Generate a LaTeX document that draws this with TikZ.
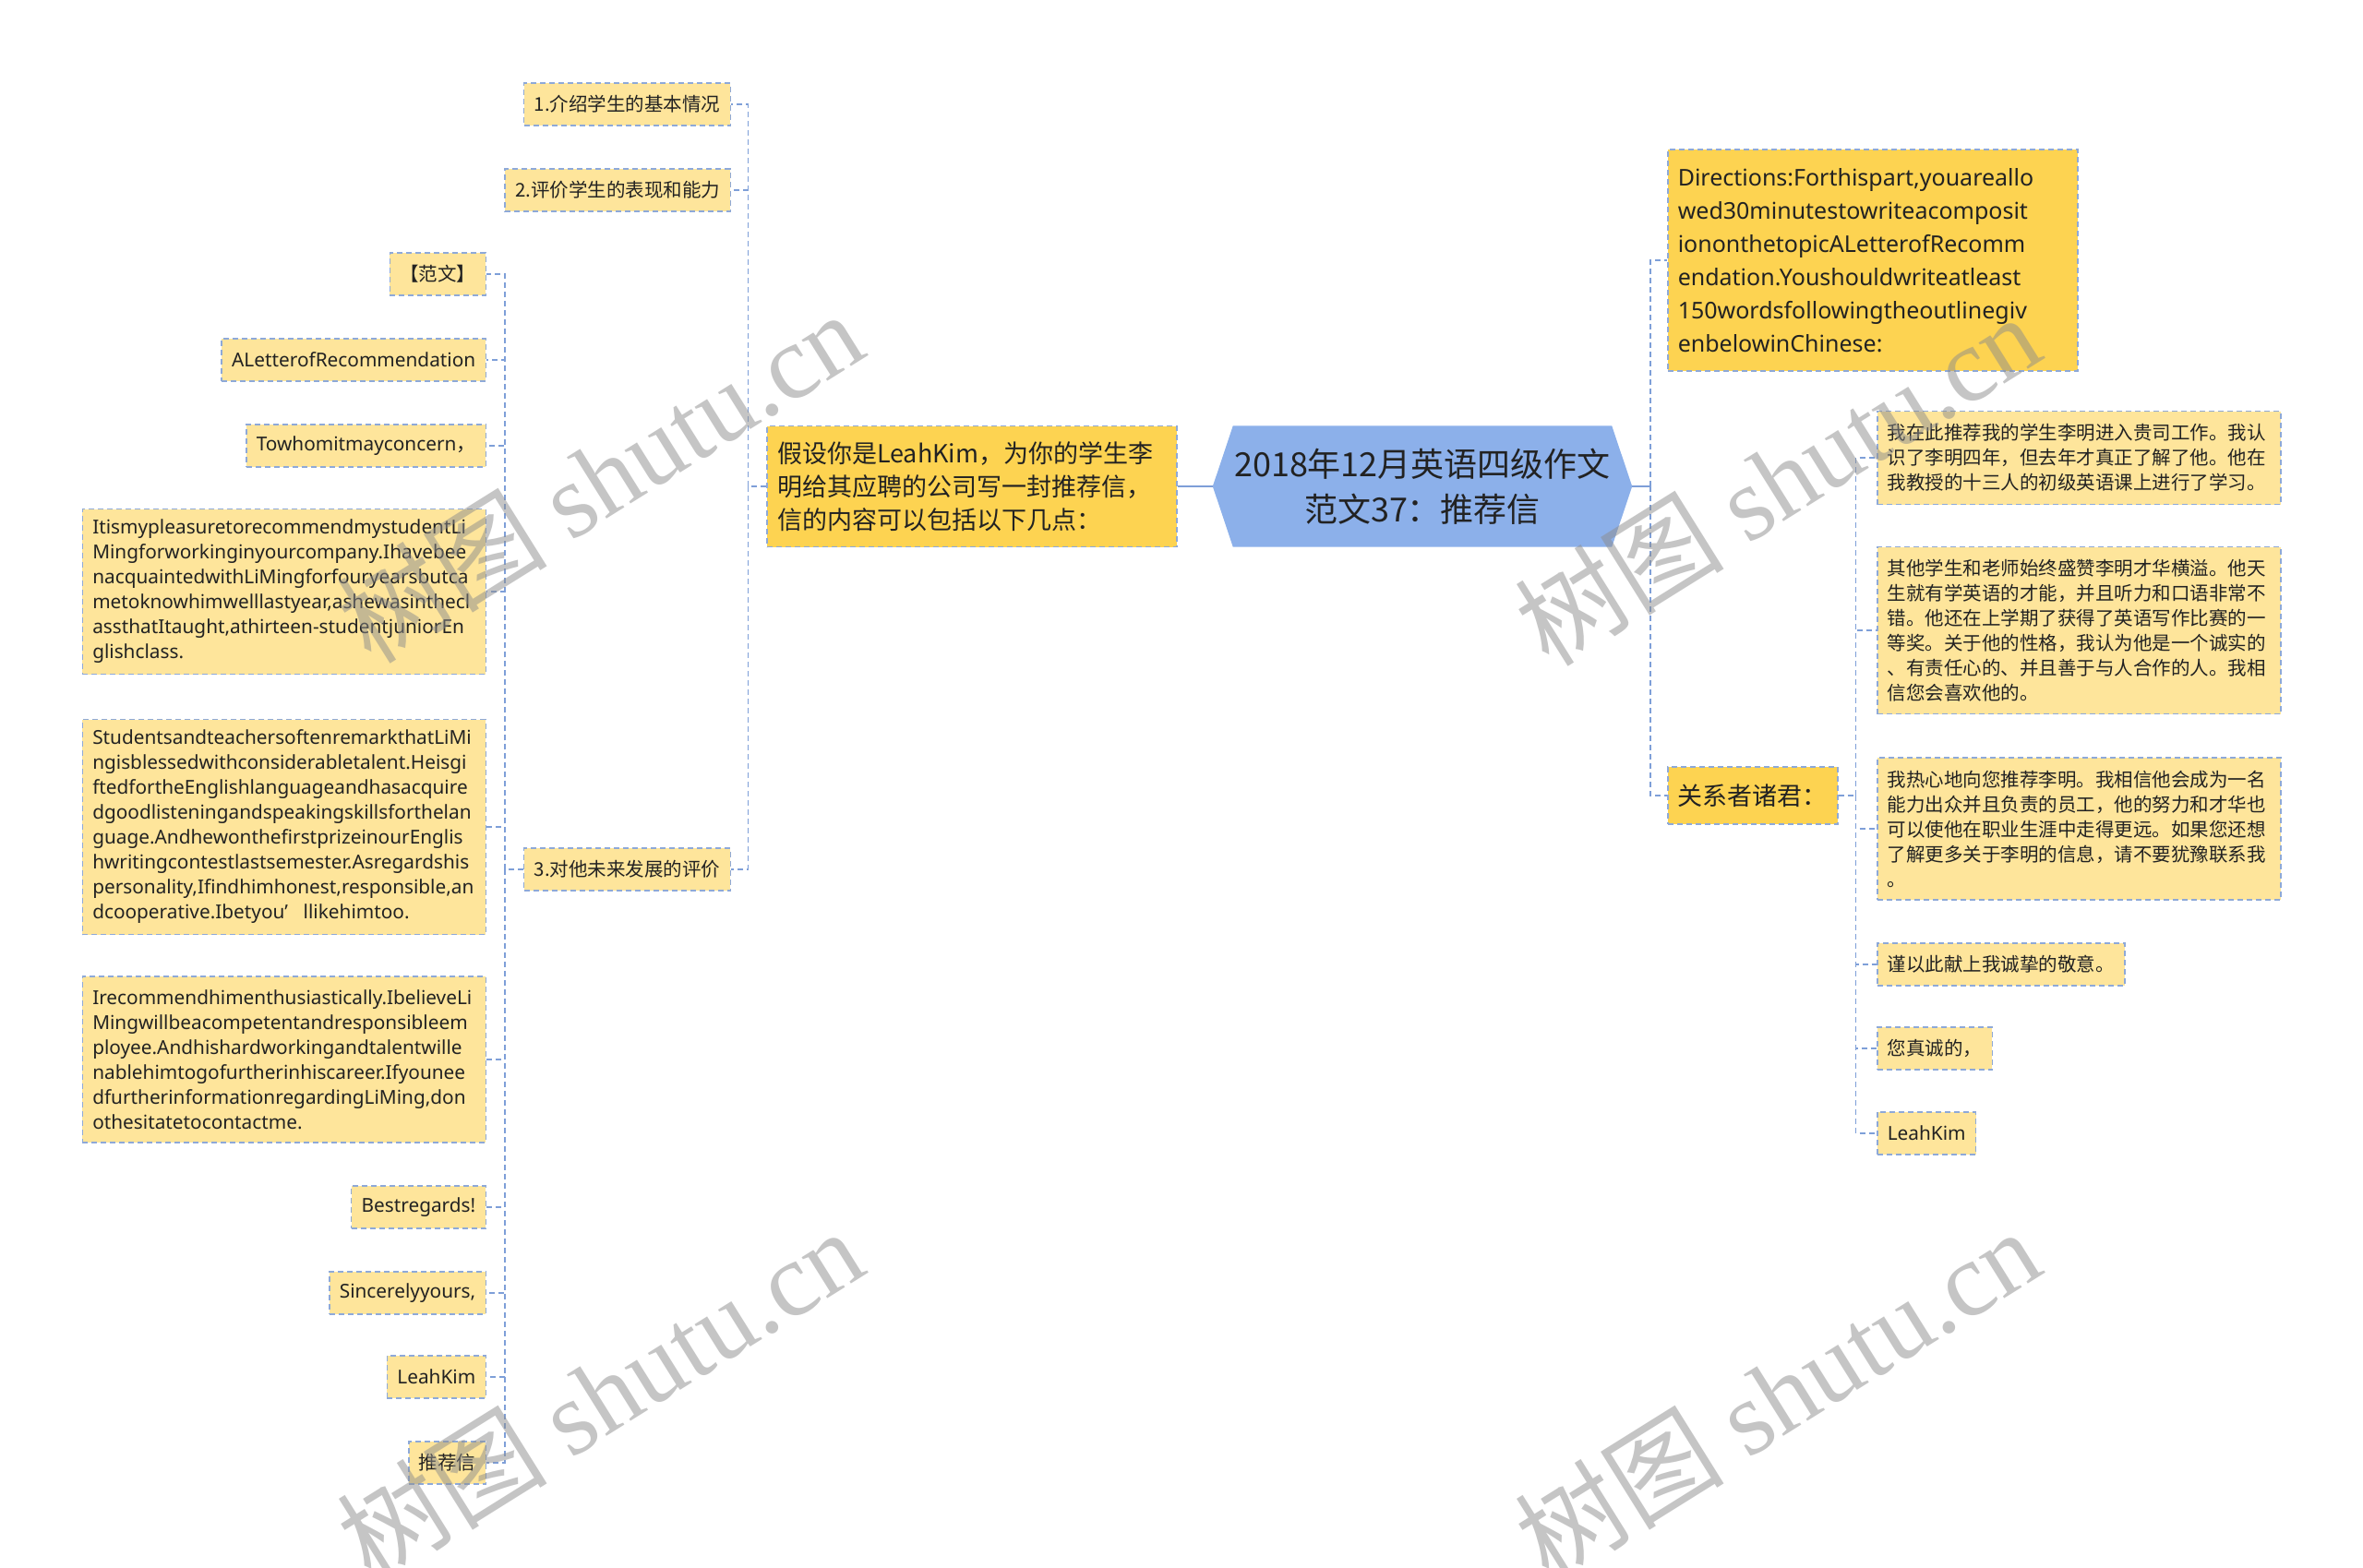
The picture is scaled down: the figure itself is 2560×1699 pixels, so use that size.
\documentclass[tikz,border=0pt]{standalone}
\usepackage{fontspec}
\setmainfont{Noto Sans CJK SC}
\newfontfamily\cjkf{Noto Sans CJK SC}
\newfontfamily\lat{Noto Sans}
\newfontfamily\wmserif{Liberation Serif}
\usetikzlibrary{calc,backgrounds}
\definecolor{darky}{HTML}{FDD351}
\definecolor{lighty}{HTML}{FEE59B}
\definecolor{cblue}{HTML}{8CB0EA}
\definecolor{bord}{HTML}{8EA9D8}
\definecolor{linec}{HTML}{7E9FD8}
\definecolor{txt}{HTML}{222222}
\hyphenpenalty=10000 \exhyphenpenalty=10000
\newcommand\szS{\fontsize{20.5}{27}\selectfont}
\newcommand\szE{\lat\fontsize{20.8}{27}\selectfont}
\newcommand\szM{\fontsize{27}{36}\selectfont}
\newcommand\szD{\lat\fontsize{25}{36}\selectfont}
\newcommand\szL{\fontsize{36}{49}\selectfont}
\tikzset{
 box/.style={draw=bord, line width=1.5pt, dash pattern=on 6pt off 4pt, text=txt,
   inner xsep=11pt, inner ysep=9pt, align=left},
 leaf/.style={box, fill=lighty, font=\szS, minimum height=46pt},
 eleaf/.style={box, fill=lighty, font=\szE, minimum height=46pt},
 mid/.style={box, fill=darky, font=\szM},
 conn/.style={draw=linec, line width=1.5pt, dash pattern=on 6pt off 4pt},
 solidc/.style={draw=linec, line width=2pt},
 wm/.style={text=black!45, text opacity=0.5, rotate=32, inner sep=0pt,
   font=\fontsize{114}{120}\selectfont}
}
\begin{document}
\begin{tikzpicture}[x=1pt,y=-1pt]
\useasboundingbox (0,0) rectangle (2560,1699);
\begin{scope}[on background layer]
\fill[white] (0,0) rectangle (2560,1699);
\end{scope}

% central
\node[minimum width=454pt, minimum height=131pt, inner sep=0pt, align=center,
  font=\szL, text=txt] (c) at (1541,527) {2018年12月英语四级作文\\范文37：推荐信};
\begin{scope}[on background layer]
\fill[cblue] (c.west) -- ($(c.north west)+(22,0)$) -- ($(c.north east)+(-22,0)$)
  -- (c.east) -- ($(c.south east)+(-22,0)$) -- ($(c.south west)+(22,0)$) -- cycle;
\end{scope}

% left level 1
\node[mid, text width=422pt, minimum height=131pt] (l1) at (1053,527)
 {假设你是LeahKim，为你的学生李\\明给其应聘的公司写一封推荐信，\\信的内容可以包括以下几点：};

\node[leaf, anchor=east] (a1) at (792,113) {1.介绍学生的基本情况};
\node[leaf, anchor=east] (a2) at (792,206) {2.评价学生的表现和能力};
\node[leaf, anchor=east] (a3) at (792,942) {3.对他未来发展的评价};

\node[leaf, anchor=east] (b1) at (527,297) {【范文】};
\node[eleaf, anchor=east] (b2) at (527,390) {ALetterofRecommendation};
\node[eleaf, anchor=east] (b3) at (527,483) {Towhomitmayconcern{\cjkf ，}};
\node[eleaf, anchor=east, text width=415pt, minimum height=179pt] (b4) at (527,641)
 {ItismypleasuretorecommendmystudentLi\\Mingforworkinginyourcompany.Ihavebee\\nacquaintedwithLiMingforfouryearsbutca\\metoknowhimwelllastyear,ashewasinthecl\\assthatItaught,athirteen-studentjuniorEn\\glishclass.};
\node[eleaf, anchor=east, text width=415pt, minimum height=233pt] (b5) at (527,896)
 {StudentsandteachersoftenremarkthatLiMi\\ngisblessedwithconsiderabletalent.Heisgi\\ftedfortheEnglishlanguageandhasacquire\\dgoodlisteningandspeakingskillsforthelan\\guage.AndhewonthefirstprizeinourEnglis\\hwritingcontestlastsemester.Asregardshis\\personality,Ifindhimhonest,responsible,an\\dcooperative.Ibetyou’\hspace{0.8em}llikehimtoo.};
\node[eleaf, anchor=east, text width=415pt, minimum height=180pt] (b6) at (527,1148)
 {Irecommendhimenthusiastically.IbelieveLi\\Mingwillbeacompetentandresponsibleem\\ployee.Andhishardworkingandtalentwille\\nablehimtogofurtherinhiscareer.Ifyounee\\dfurtherinformationregardingLiMing,don\\othesitatetocontactme.};
\node[eleaf, anchor=east] (b7) at (527,1308) {Bestregards!};
\node[eleaf, anchor=east] (b8) at (527,1401) {Sincerelyyours,};
\node[eleaf, anchor=east] (b9) at (527,1492) {LeahKim};
\node[leaf, anchor=east] (b10) at (527,1585) {推荐信};

% right level 1
\node[mid, font=\szD, anchor=west, text width=422pt, minimum height=240pt] (dir) at (1806,282)
 {Directions:Forthispart,youareallo\\wed30minutestowriteacomposit\\iononthetopicALetterofRecomm\\endation.Youshouldwriteatleast\\150wordsfollowingtheoutlinegiv\\enbelowinChinese:};
\node[mid, anchor=west, minimum height=62pt] (gx) at (1806,862) {关系者诸君：};

\node[leaf, anchor=west, text width=415pt, minimum height=101pt] (r1) at (2033,496)
 {我在此推荐我的学生李明进入贵司工作。我认\\识了李明四年，但去年才真正了解了他。他在\\我教授的十三人的初级英语课上进行了学习。};
\node[leaf, anchor=west, text width=415pt, minimum height=181pt] (r2) at (2033,683)
 {其他学生和老师始终盛赞李明才华横溢。他天\\生就有学英语的才能，并且听力和口语非常不\\错。他还在上学期了获得了英语写作比赛的一\\等奖。关于他的性格，我认为他是一个诚实的\\、有责任心的、并且善于与人合作的人。我相\\信您会喜欢他的。};
\node[leaf, anchor=west, text width=415pt, minimum height=154pt] (r3) at (2033,898)
 {我热心地向您推荐李明。我相信他会成为一名\\能力出众并且负责的员工，他的努力和才华也\\可以使他在职业生涯中走得更远。如果您还想\\了解更多关于李明的信息，请不要犹豫联系我\\。};
\node[leaf, anchor=west] (r4) at (2033,1045) {谨以此献上我诚挚的敬意。};
\node[leaf, anchor=west] (r5) at (2033,1136) {您真诚的，};
\node[eleaf, anchor=west] (r6) at (2033,1228) {LeahKim};

% connectors
\draw[solidc] (l1.east) -- (c.west);
\coordinate (sL) at ($(l1.west)+(-20,0)$);
\draw[conn] (l1.west) -- (sL);
\foreach \n in {a1,a2,a3} \draw[conn] (sL) |- (\n.east);
\coordinate (sL2) at ($(a3.west)+(-20,0)$);
\draw[conn] (a3.west) -- (sL2);
\foreach \n in {b1,b2,b3,b4,b5,b6,b7,b8,b9,b10} \draw[conn] (sL2) |- (\n.east);

\coordinate (sR) at ($(c.east)+(20,0)$);
\draw[solidc] (c.east) -- (sR);
\foreach \n in {dir,gx} \draw[conn] (sR) |- (\n.west);
\coordinate (sR2) at ($(gx.east)+(19,0)$);
\draw[conn] (gx.east) -- (sR2);
\foreach \n in {r1,r2,r3,r4,r5,r6} \draw[conn] (sR2) |- (\n.west);

% watermarks
\node[wm] (w1) at (650,516) {树图 {\wmserif shutu.cn}};
\node[wm] (w2) at (650,1510) {树图 {\wmserif shutu.cn}};
\node[wm] (w3) at (1925,519) {树图 {\wmserif shutu.cn}};
\node[wm] (w4) at (1925,1510) {树图 {\wmserif shutu.cn}};
\end{tikzpicture}
\end{document}
